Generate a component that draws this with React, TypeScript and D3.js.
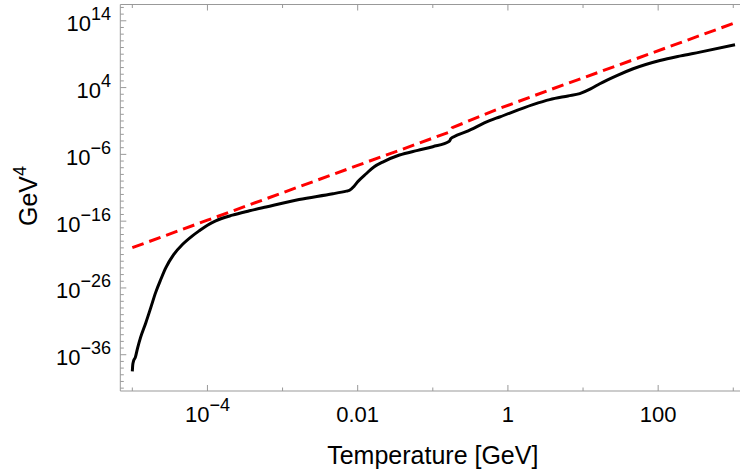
import React from "react";
import * as d3 from "d3";

// log10(T/GeV) and log10(rho/GeV^4)
const blackLogT = [
  -5.0, -4.995, -4.985, -4.96, -4.93, -4.89, -4.82, -4.75, -4.69, -4.62, -4.555, -4.45, -4.333,
  -4.2, -4.111, -4.0, -3.89, -3.667, -3.44, -3.22, -2.78, -2.33, -2.15, -2.111, -2.05, -2.0,
  -1.888, -1.78, -1.667, -1.444, -1.2, -1.0, -0.78, -0.76, -0.72, -0.555, -0.244, -0.111, 0.333,
  0.556, 0.8, 0.956, 1.1, 1.223, 1.45, 1.667, 2.023, 2.3, 2.556, 3.023,
];
const blackLogRho = [
  -38.5, -37.6, -37.0, -36.4, -35.0, -33.4, -31.2, -28.8, -26.7, -24.7, -23.0, -21.0, -19.5,
  -18.2, -17.45, -16.6, -15.95, -15.1, -14.45, -13.87, -12.75, -11.9, -11.5, -11.4, -10.8, -10.1,
  -8.9, -7.85, -7.15, -6.1, -5.4, -4.85, -4.05, -3.65, -3.35, -2.6, -0.95, -0.4, 1.45,
  2.2, 2.75, 3.1, 3.8, 4.58, 5.8, 6.82, 8.06, 8.75, 9.31, 10.41,
];
const redLogT = [-5.0, -4.0, -3.0, -2.0, -1.444, -0.77, -0.74, -0.111, 0.556, 1.623, 3.0];
const redLogRho = [-19.97, -15.85, -11.75, -7.65, -5.39, -2.62, -2.0, 0.88, 3.65, 7.98, 13.6];

const xTickExps = [-4, -2, 0, 2];
const xTickLabels = [
  { base: "10", sup: "\u22124" },
  { base: "0.01", sup: "" },
  { base: "1", sup: "" },
  { base: "100", sup: "" },
];
const xMinorExps = [-5, -3, -1, 1, 3];
const yTickExps = [-36, -26, -16, -6, 4, 14];
const yTickLabels = ["\u221236", "\u221226", "\u221216", "\u22126", "4", "14"];

const xLabel = "Temperature [GeV]";
const yLabel = "GeV";
const yLabelSup = "4";

export default function App() {
  const W = 740, H = 471;
  const left = 120.3, right = 745.3, top = 4.5, bottom = 391;
  const x = d3.scaleLog().domain([10 ** -5.16, 10 ** 3.16]).range([left, right]);
  const y = d3.scaleLog().domain([10 ** -41.43, 10 ** 16.44]).range([bottom, top]);

  const black = blackLogT.map((t, i) => [10 ** t, 10 ** blackLogRho[i]] as [number, number]);
  const red = redLogT.map((t, i) => [10 ** t, 10 ** redLogRho[i]] as [number, number]);
  const lineSmooth = d3
    .line<[number, number]>()
    .x((d) => x(d[0]))
    .y((d) => y(d[1]))
    .curve(d3.curveMonotoneX);
  const lineStraight = d3.line<[number, number]>().x((d) => x(d[0])).y((d) => y(d[1]));

  const yMinor: number[] = [];
  for (let e = -41; e <= 16; e++) if (!yTickExps.includes(e)) yMinor.push(e);

  const axisColor = "#999999";
  const font = "'Liberation Sans', Arial, Helvetica, sans-serif";

  return (
    <svg width={W} height={H} style={{ position: "absolute", left: 0, top: 0, background: "#fff" }} fontFamily={font}>
      <defs>
        <clipPath id="plotclip">
          <rect x={left} y={top} width={right - left} height={bottom - top} />
        </clipPath>
      </defs>
      <rect x={0} y={0} width={W} height={H} fill="#fff" />
      {/* frame */}
      <line x1={left} x2={W} y1={bottom} y2={bottom} stroke={axisColor} strokeWidth={1} />
      <line x1={left} x2={W} y1={top} y2={top} stroke={axisColor} strokeWidth={1} />
      <line x1={left} x2={left} y1={top} y2={bottom} stroke={axisColor} strokeWidth={1} />
      {/* x ticks */}
      {xTickExps.map((e) => (
        <g key={"xt" + e}>
          <line x1={x(10 ** e)} x2={x(10 ** e)} y1={bottom} y2={bottom - 6} stroke={axisColor} />
          <line x1={x(10 ** e)} x2={x(10 ** e)} y1={top} y2={top + 6} stroke={axisColor} />
        </g>
      ))}
      {xMinorExps.map((e) => (
        <g key={"xm" + e}>
          <line x1={x(10 ** e)} x2={x(10 ** e)} y1={bottom} y2={bottom - 3.5} stroke={axisColor} />
          <line x1={x(10 ** e)} x2={x(10 ** e)} y1={top} y2={top + 3.5} stroke={axisColor} />
        </g>
      ))}
      {/* y ticks */}
      {yTickExps.map((e) => (
        <line key={"yt" + e} x1={left} x2={left + 6} y1={y(10 ** e)} y2={y(10 ** e)} stroke={axisColor} />
      ))}
      {yMinor.map((e) => (
        <line key={"ym" + e} x1={left} x2={left + 3.5} y1={y(10 ** e)} y2={y(10 ** e)} stroke={axisColor} />
      ))}
      {/* x tick labels */}
      {xTickExps.map((e, i) => (
        <text key={"xl" + e} x={x(10 ** e)} y={422} textAnchor="middle" fontSize={22} fill="#000">
          {xTickLabels[i].base}
          {xTickLabels[i].sup && (
            <tspan fontSize={18} dy={-11}>
              {xTickLabels[i].sup}
            </tspan>
          )}
        </text>
      ))}
      {/* y tick labels */}
      {yTickExps.map((e, i) => (
        <text key={"yl" + e} x={111} y={y(10 ** e) + 10.5} textAnchor="end" fontSize={22} fill="#000">
          10
          <tspan fontSize={18} dy={-11}>
            {yTickLabels[i]}
          </tspan>
        </text>
      ))}
      {/* curves */}
      <g clipPath="url(#plotclip)">
        <path d={lineStraight(red) || ""} fill="none" stroke="#ff0000" strokeWidth={3} strokeDasharray="12,6" />
        <path d={lineSmooth(black) || ""} fill="none" stroke="#000" strokeWidth={3} strokeLinejoin="round" />
      </g>
      {/* axis labels */}
      <text x={(left + right) / 2} y={464} textAnchor="middle" fontSize={25} fill="#000">
        {xLabel}
      </text>
      <text transform={`translate(37,196) rotate(-90)`} textAnchor="middle" fontSize={25} fill="#000">
        {yLabel}
        <tspan fontSize={18} dy={-11}>
          {yLabelSup}
        </tspan>
      </text>
    </svg>
  );
}
